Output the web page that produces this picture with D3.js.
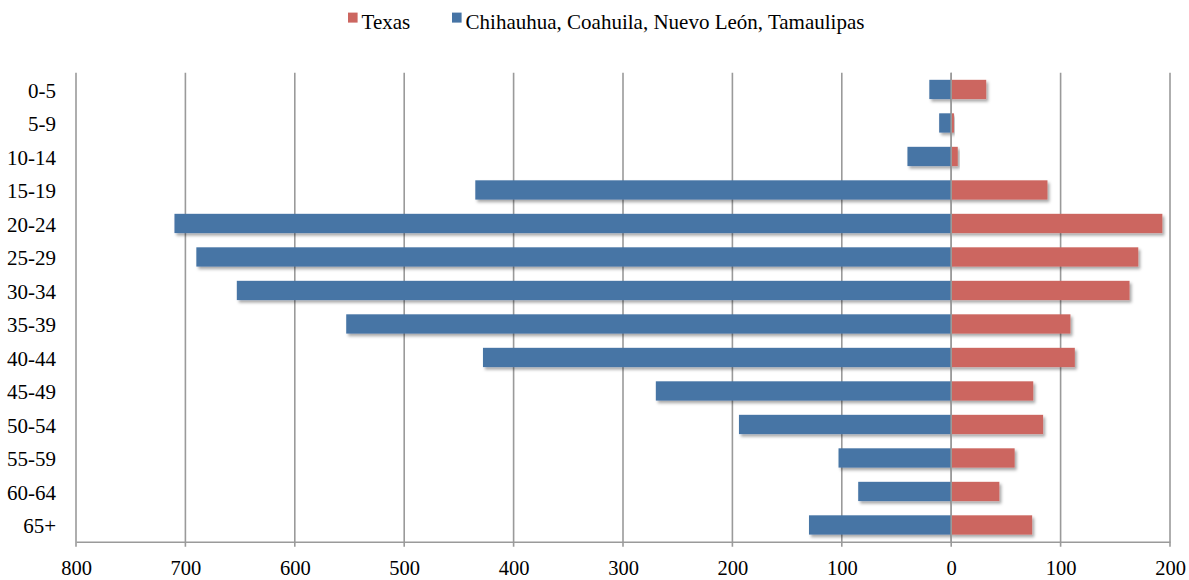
<!DOCTYPE html>
<html>
<head>
<meta charset="utf-8">
<script src="https://cdn.jsdelivr.net/npm/d3@7"></script>
<style>
    body { margin: 0; background: #fff; }
</style>
</head>
<body>
<div id="chart"></div>
<script>
const ageGroups = ['0-5', '5-9', '10-14', '15-19', '20-24', '25-29', '30-34', '35-39',
                   '40-44', '45-49', '50-54', '55-59', '60-64', '65+'];
const texasValues = [32, 2.5, 6, 88, 193, 171, 163, 109, 113, 75, 84, 58, 44, 74];
const mexicoValues = [20, 11, 40, 435, 710, 690, 653, 553, 428, 270, 194, 103, 85, 130];
const xTicks = [-800, -700, -600, -500, -400, -300, -200, -100, 0, 100, 200];
const seriesNames = ['Texas', 'Chihauhua, Coahuila, Nuevo León, Tamaulipas'];
const seriesColors = ['#cc6660', '#4674a5'];

const fontFamily = 'Liberation Serif';

const margin = { top: 72.7, right: 19, bottom: 38.3, left: 76 },
      fullWidth = 1189,
      fullHeight = 580,
      width = fullWidth - margin.left - margin.right,
      height = fullHeight - margin.top - margin.bottom;

const root = d3.select('#chart')
    .append('svg')
    .attr('width', fullWidth)
    .attr('height', fullHeight);

// soft shadow under bars
const filter = root.append('defs').append('filter')
    .attr('id', 'shadow')
    .attr('x', '-10%').attr('y', '-30%')
    .attr('width', '130%').attr('height', '190%');
filter.append('feDropShadow')
    .attr('dx', 2)
    .attr('dy', 2.5)
    .attr('stdDeviation', 1.6)
    .attr('flood-color', '#000')
    .attr('flood-opacity', 0.35);

const svg = root.append('g')
    .attr('transform', 'translate(' + margin.left + ',' + margin.top + ')');

const xScale = d3.scaleLinear()
    .domain([-800, 200])
    .range([0, width]);

const yScale = d3.scaleBand()
    .domain(ageGroups)
    .range([0, height])
    .paddingInner(0.425)
    .paddingOuter(0.2125);

// gridlines
svg.append('g')
    .selectAll('line')
    .data(xTicks)
    .enter()
    .append('line')
    .attr('x1', d => xScale(d))
    .attr('x2', d => xScale(d))
    .attr('y1', 0)
    .attr('y2', height + 5)
    .attr('stroke', '#9a9a9a')
    .attr('stroke-width', 1.6);

// bars
const rows = ageGroups.map((g, i) => ({ group: g, texas: texasValues[i], mexico: mexicoValues[i] }));

svg.append('g')
    .selectAll('rect')
    .data(rows)
    .enter()
    .append('rect')
    .attr('x', d => xScale(-d.mexico))
    .attr('width', d => xScale(0) - xScale(-d.mexico))
    .attr('y', d => yScale(d.group))
    .attr('height', yScale.bandwidth())
    .attr('fill', seriesColors[1])
    .attr('filter', 'url(#shadow)');

svg.append('g')
    .selectAll('rect')
    .data(rows)
    .enter()
    .append('rect')
    .attr('x', xScale(0))
    .attr('width', d => xScale(d.texas) - xScale(0))
    .attr('y', d => yScale(d.group))
    .attr('height', yScale.bandwidth())
    .attr('fill', seriesColors[0])
    .attr('filter', 'url(#shadow)');

// zero line on top of bars
svg.append('line')
    .attr('x1', xScale(0)).attr('x2', xScale(0))
    .attr('y1', 0).attr('y2', height)
    .attr('stroke', '#9a9a9a')
    .attr('stroke-width', 1.6);

// bottom axis
const xAxis = svg.append('g')
    .attr('transform', 'translate(0,' + height + ')')
    .call(d3.axisBottom(xScale)
        .tickValues(xTicks)
        .tickSize(0)
        .tickPadding(19)
        .tickFormat(d => Math.abs(d)));
xAxis.select('.domain')
    .attr('stroke', '#9a9a9a')
    .attr('stroke-width', 1.6);
xAxis.selectAll('text')
    .attr('dy', '0.71em')
    .attr('fill', '#000')
    .style('font-family', fontFamily)
    .style('font-size', '20.5px');

// left labels
const yAxis = svg.append('g')
    .call(d3.axisLeft(yScale).tickSize(0).tickPadding(20));
yAxis.select('.domain').remove();
yAxis.selectAll('text')
    .attr('fill', '#000')
    .attr('dy', '0.4em')
    .style('font-family', fontFamily)
    .style('font-size', '21px');

// legend
const legend = root.append('g');
const legendItems = [
    { name: seriesNames[0], color: seriesColors[0], x: 348 },
    { name: seriesNames[1], color: seriesColors[1], x: 452 }
];
legendItems.forEach(item => {
    legend.append('rect')
        .attr('x', item.x)
        .attr('y', 12.6)
        .attr('width', 9.6)
        .attr('height', 10)
        .attr('fill', item.color);
    legend.append('text')
        .attr('x', item.x + 13.6)
        .attr('y', 28.5)
        .style('font-family', fontFamily)
        .style('font-size', '21px')
        .text(item.name);
});
</script>
</body>
</html>
